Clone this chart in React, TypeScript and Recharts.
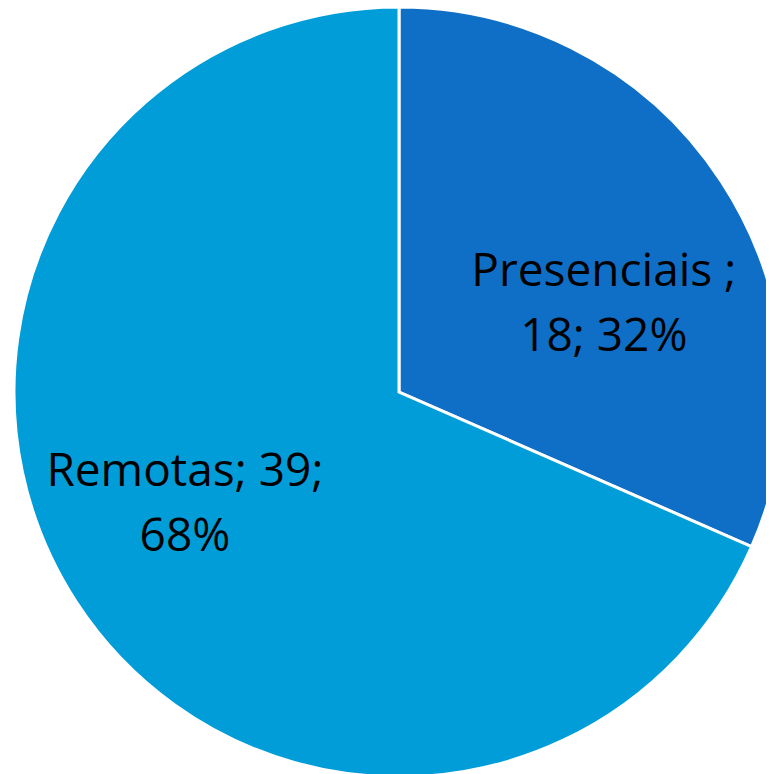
import React from "react";
import { PieChart, Pie, Cell } from "recharts";

const categories = ["Presenciais ", "Remotas"];
const values = [18, 39];
const colors = ["#0F6FC6", "#009DD9"];

const data = categories.map((name, i) => ({ name, value: values[i] }));
const total = values.reduce((a, b) => a + b, 0);

const RADIAN = Math.PI / 180;

const renderLabel = (props: any) => {
  const { cx, cy, midAngle, outerRadius, index } = props;
  const c = Math.cos(midAngle * RADIAN);
  const s = Math.sin(midAngle * RADIAN);
  const x = cx + outerRadius * (0.544 * Math.sign(c) - 0.012);
  const y = cy + outerRadius * (0.068 - 0.26 * Math.sign(s));
  const d = data[index];
  const pct = Math.round((d.value / total) * 100);
  const text = `${d.name}; ${d.value}; ${pct}%`;
  const lines =
    index === 0
      ? [`${d.name};`, `${d.value}; ${pct}%`]
      : [`${d.name}; ${d.value};`, `${pct}%`];
  return (
    <text
      x={x}
      y={y}
      textAnchor="middle"
      fill="#000000"
      fontFamily="'Open Sans', Lato, sans-serif"
      fontSize={46}
      aria-label={text}
    >
      <tspan x={x} y={y - 32}>{lines[0]}</tspan>
      <tspan x={x} y={y + 33}>{lines[1]}</tspan>
    </text>
  );
};

export default function App() {
  return (
    <PieChart width={774} height={774} margin={{ top: 0, right: 0, bottom: 0, left: 0 }}>
      <Pie
        data={data}
        dataKey="value"
        nameKey="name"
        cx={391}
        cy={384}
        outerRadius={385}
        startAngle={90}
        endAngle={-270}
        stroke="#FFFFFF"
        strokeWidth={3}
        label={renderLabel}
        labelLine={false}
        isAnimationActive={false}
      >
        {data.map((d, i) => (
          <Cell key={d.name} fill={colors[i]} />
        ))}
      </Pie>
    </PieChart>
  );
}
